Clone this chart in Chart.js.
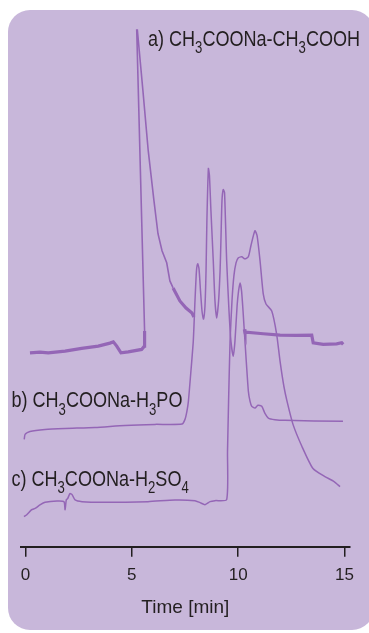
<!DOCTYPE html>
<html><head><meta charset="utf-8">
<script src="https://cdn.jsdelivr.net/npm/chart.js@4/dist/chart.umd.min.js"></script>
<style>
html,body{margin:0;padding:0;background:#fff;}
#wrap{position:relative;width:369px;height:633px;overflow:hidden;}
#bg{position:absolute;left:8px;top:10px;width:366px;height:620px;border-radius:22px;background:#c8b7da;}
canvas{position:absolute;left:0;top:0;}
</style></head><body>
<div id="wrap"><div id="bg"></div><canvas id="c" width="369" height="633"></canvas></div>
<script>
// ---- data (time in min, signal in arbitrary units, traces offset) ----
const aTime   = [0.21,0.68,1.07,1.86,2.64,3.42,3.97,4.13,4.29,4.49,4.83,5.46,5.59,5.60,5.23,5.26,5.52,5.77,6.04,6.23,6.42,6.64,6.79,6.94,7.26,7.55,7.83,7.92,null,10.29,10.32,11.18,11.97,12.75,13.46,13.53,14.00,14.63,14.87,14.94];
const aSignal = [193.3,194,193.3,195,197.7,200,203,204.3,200,193.3,194.3,196.7,200,215,515,515,455,395,345,312,295,283,265,258,245,238,233,229,null,216.7,214,212.3,211,210.7,211,203.3,201.7,202.3,203.3,201.7];

const bTime   = [-0.06,-0.02,0.21,0.92,1.86,3.27,4.68,6.09,7.36,7.50,7.59,7.66,7.74,7.89,7.97,8.04,8.10,8.16,8.23,8.30,8.37,8.44,8.49,8.53,8.60,8.65,8.72,8.83,8.91,8.99,9.08,9.15,9.19,9.24,9.30,9.36,9.46,9.57,9.66,9.77,9.85,9.95,10.02,10.09,10.16,10.23,10.32,10.48,10.56,10.64,10.79,10.93,11.11,11.26,11.42,11.73,12.2,14.93];
const bSignal = [107,112,115,117,118,119,121,122,122.3,127,135,145,165,205,245,275,282,277,255,235,227,240,275,325,377,370,335,285,245,228,245,275,305,345,356,353,285,235,205,190,205,240,255,263,255,235,205,155,145,140,138.3,141,140,133,128.3,126.7,126,125];

const cTime   = [-0.07,0.06,0.29,0.45,0.68,0.92,1.48,1.81,1.86,1.92,1.98,2.09,2.19,2.33,2.66,3.60,5.76,7.03,7.97,8.21,8.44,8.68,8.91,9.46,9.50,9.55,9.62,9.71,9.80,9.90,10.01,10.17,10.32,10.48,10.60,10.79,10.89,11.03,11.18,11.31,11.58,11.81,11.97,12.15,12.30,12.58,13.00,13.52,14.08,14.51,14.79];
const cSignal = [30,32,37,38.3,41.7,44.3,45.7,45,37,47,48,53,52,46.7,45,44.3,45,46.7,46,44,42,45,46,47,95,145,205,245,270,283,288,289,287,289,300,315,310,285,252,242,235,212,185,160,145,122,100,78,70,65,60];

const tickValues = [0,5,10,15];
const axisTitle = 'Time [min]';
// label texts: [text, isSubscript]
const labelA = [['a) CH',0],['3',1],['COONa-CH',0],['3',1],['COOH',0]];
const labelB = [['b) CH',0],['3',1],['COONa-H',0],['3',1],['PO',0]];
const labelC = [['c) CH',0],['3',1],['COONa-H',0],['2',1],['SO',0],['4',1]];

const LINE = '#9466b6';
const TEXT = '#231f20';
const FONT = "'Liberation Sans',Arial,sans-serif";

function pts(t, s){ return t.map((v,i)=> v===null ? {x:null,y:null} : {x:v,y:s[i]}); }

const labelPlugin = {
  id:'seriesLabels',
  afterDatasetsDraw(chart){
    const {ctx, scales:{x,y}} = chart;
    const items = [
      {parts:labelA, t:5.76, s:499.5},
      {parts:labelB, t:-0.66, s:139},
      {parts:labelC, t:-0.66, s:61}
    ];
    ctx.save();
    ctx.fillStyle = TEXT;
    ctx.textBaseline = 'alphabetic';
    ctx.textAlign = 'left';
    items.forEach(it=>{
      ctx.save();
      ctx.translate(x.getPixelForValue(it.t), y.getPixelForValue(it.s));
      ctx.scale(0.82, 1);
      let px = 0;
      it.parts.forEach(([txt,sub])=>{
        ctx.font = (sub? '16px ' : '22px ') + FONT;
        ctx.fillText(txt, px, sub? 7.5 : 0);
        px += ctx.measureText(txt).width;
      });
      ctx.restore();
    });
    ctx.restore();
  }
};

new Chart(document.getElementById('c'), {
  type:'scatter',
  data:{datasets:[
    {data:pts(aTime,aSignal), showLine:true, borderColor:LINE, borderWidth:1.6, pointRadius:0, tension:0, spanGaps:false,
     segment:{borderWidth: c => Math.max(c.p0.parsed.y, c.p1.parsed.y) < 262 ? 3.2 : 1.6}},
    {data:pts(bTime,bSignal), showLine:true, borderColor:LINE, borderWidth:1.5, pointRadius:0, tension:0.2},
    {data:pts(cTime,cSignal), showLine:true, borderColor:LINE, borderWidth:1.5, pointRadius:0, tension:0.2}
  ]},
  options:{
    responsive:false, animation:false, devicePixelRatio:1,
    layout:{padding:{left:20.7, right:19, top:20, bottom:14}},
    plugins:{legend:{display:false}, tooltip:{enabled:false}},
    scales:{
      x:{type:'linear', min:-0.226, max:15.26,
         afterBuildTicks: sc => { sc.ticks = tickValues.map(v=>({value:v})); },
         grid:{drawOnChartArea:false, drawTicks:true, tickLength:10, color:TEXT, lineWidth:1.5},
         border:{display:true, color:TEXT, width:2},
         ticks:{font:{family:FONT, size:17}, color:TEXT, padding:8, autoSkip:false, maxRotation:0, callback:v=>v},
         title:{display:true, text:axisTitle, font:{family:FONT, size:19}, color:TEXT, padding:{top:3,bottom:0}}
      },
      y:{display:false, min:0, max:525}
    }
  },
  plugins:[labelPlugin]
});
</script>
</body></html>
